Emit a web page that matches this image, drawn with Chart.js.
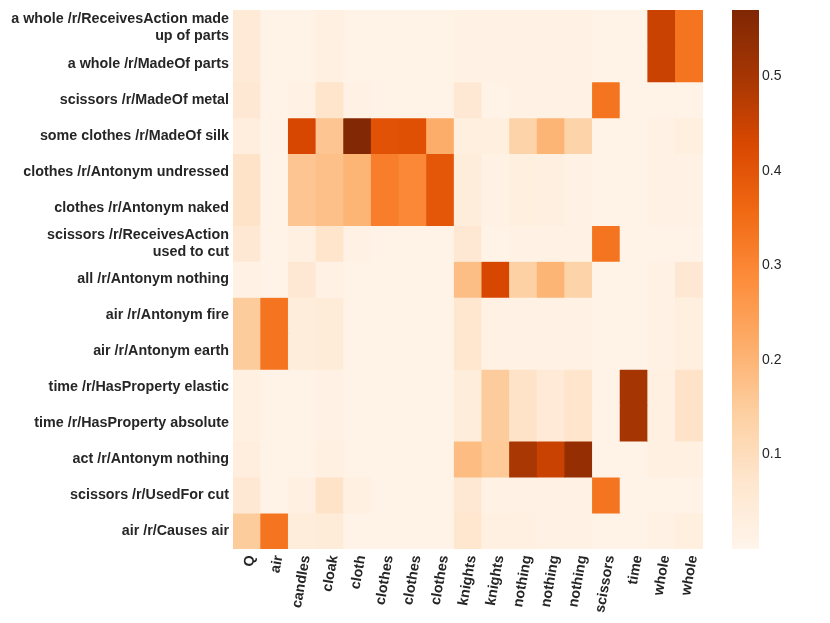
<!DOCTYPE html>
<html>
<head>
<meta charset="utf-8">
<script src="https://cdn.jsdelivr.net/npm/chart.js@4/dist/chart.umd.min.js"></script>
<style>
  html, body { margin: 0; padding: 0; background: #fff; }
  #wrap { width: 830px; height: 623px; position: relative; }
</style>
</head>
<body>
<div id="wrap"><canvas id="chart"></canvas></div>
<script>
const rowLabels = [
    ['a whole /r/ReceivesAction made', 'up of parts'],
    'a whole /r/MadeOf parts',
    'scissors /r/MadeOf metal',
    'some clothes /r/MadeOf silk',
    'clothes /r/Antonym undressed',
    'clothes /r/Antonym naked',
    ['scissors /r/ReceivesAction', 'used to cut'],
    'all /r/Antonym nothing',
    'air /r/Antonym fire',
    'air /r/Antonym earth',
    'time /r/HasProperty elastic',
    'time /r/HasProperty absolute',
    'act /r/Antonym nothing',
    'scissors /r/UsedFor cut',
    'air /r/Causes air',
];

const colLabels = ['Q', 'air', 'candles', 'cloak', 'cloth', 'clothes', 'clothes', 'clothes',
    'knights', 'knights', 'nothing', 'nothing', 'nothing', 'scissors', 'time', 'whole', 'whole'];

// one row per statement, one value per column
const cellValues = [
    [0.05, 0.01, 0.01, 0.025, 0.01, 0.01, 0.01, 0.01, 0.015, 0.015, 0.02, 0.02, 0.018, 0.008, 0.008, 0.45, 0.335],
    [0.05, 0.01, 0.01, 0.022, 0.01, 0.01, 0.01, 0.01, 0.014, 0.014, 0.02, 0.02, 0.017, 0.008, 0.008, 0.45, 0.335],
    [0.06, 0.008, 0.02, 0.075, 0.02, 0.01, 0.01, 0.01, 0.06, 0.012, 0.014, 0.014, 0.014, 0.335, 0.01, 0.012, 0.012],
    [0.035, 0.008, 0.43, 0.165, 0.565, 0.405, 0.41, 0.215, 0.03, 0.03, 0.13, 0.2, 0.13, 0.01, 0.01, 0.02, 0.03],
    [0.08, 0.01, 0.165, 0.175, 0.2, 0.315, 0.295, 0.395, 0.04, 0.015, 0.03, 0.028, 0.02, 0.012, 0.012, 0.02, 0.02],
    [0.08, 0.01, 0.165, 0.175, 0.2, 0.315, 0.295, 0.395, 0.04, 0.015, 0.03, 0.028, 0.02, 0.012, 0.012, 0.02, 0.02],
    [0.06, 0.008, 0.022, 0.075, 0.02, 0.01, 0.01, 0.01, 0.06, 0.01, 0.014, 0.014, 0.014, 0.335, 0.01, 0.012, 0.012],
    [0.02, 0.008, 0.06, 0.015, 0.01, 0.01, 0.01, 0.01, 0.18, 0.43, 0.14, 0.2, 0.13, 0.01, 0.01, 0.02, 0.06],
    [0.15, 0.335, 0.04, 0.045, 0.01, 0.01, 0.01, 0.01, 0.07, 0.018, 0.02, 0.018, 0.015, 0.012, 0.012, 0.015, 0.03],
    [0.15, 0.335, 0.04, 0.045, 0.01, 0.01, 0.01, 0.01, 0.07, 0.018, 0.02, 0.018, 0.015, 0.012, 0.012, 0.015, 0.03],
    [0.025, 0.01, 0.012, 0.018, 0.01, 0.01, 0.01, 0.01, 0.04, 0.15, 0.08, 0.05, 0.075, 0.01, 0.5, 0.025, 0.08],
    [0.025, 0.01, 0.012, 0.018, 0.01, 0.01, 0.01, 0.01, 0.04, 0.15, 0.08, 0.05, 0.075, 0.01, 0.5, 0.025, 0.08],
    [0.035, 0.01, 0.01, 0.025, 0.01, 0.01, 0.01, 0.01, 0.185, 0.155, 0.495, 0.45, 0.53, 0.01, 0.01, 0.025, 0.025],
    [0.06, 0.008, 0.022, 0.08, 0.022, 0.012, 0.01, 0.01, 0.06, 0.014, 0.018, 0.014, 0.014, 0.335, 0.01, 0.012, 0.012],
    [0.15, 0.335, 0.04, 0.045, 0.012, 0.01, 0.01, 0.01, 0.07, 0.025, 0.025, 0.02, 0.02, 0.012, 0.012, 0.015, 0.03],
];

const colorbarTicks = [0.1, 0.2, 0.3, 0.4, 0.5];
const V_MIN = 0;
const V_MAX = 0.57;

// matplotlib "Oranges"
const ORANGES = ['#fff5eb', '#fee6ce', '#fdd0a2', '#fdae6b', '#fd8d3c', '#f16913', '#d94801', '#a63603', '#7f2704'];

function hexToRgb(h) {
    return [parseInt(h.slice(1, 3), 16), parseInt(h.slice(3, 5), 16), parseInt(h.slice(5, 7), 16)];
}

function orangeFor(v) {
    let t = (v - V_MIN) / (V_MAX - V_MIN);
    t = Math.max(0, Math.min(1, t));
    const pos = t * (ORANGES.length - 1);
    const i = Math.min(Math.floor(pos), ORANGES.length - 2);
    const f = pos - i;
    const a = hexToRgb(ORANGES[i]);
    const b = hexToRgb(ORANGES[i + 1]);
    const c = a.map((x, k) => Math.round(x + (b[k] - x) * f));
    return `rgb(${c[0]},${c[1]},${c[2]})`;
}

// scales add their tick padding above/below the plot; we don't want that here
function noEdgePadding(s) {
    s.paddingTop = 0;
    s.paddingBottom = 0;
    s.paddingLeft = 0;
    s.paddingRight = 0;
}

const datasets = cellValues.map((row, r) => ({
    label: Array.isArray(rowLabels[r]) ? rowLabels[r].join(' ') : rowLabels[r],
    data: row.map(() => [r, r + 1]),
    backgroundColor: row.map(orangeFor),
    borderWidth: 0,
    barPercentage: 1,
    categoryPercentage: 1,
    grouped: false,
    yAxisID: 'y',
}));

const colorbarPlugin = {
    id: 'colorbar',
    afterDraw(chart) {
        const cb = chart.scales.cb;
        const ctx = chart.ctx;
        const x = chart.chartArea.right + 29;
        const w = 27;
        const top = cb.getPixelForValue(V_MAX);
        const bottom = cb.getPixelForValue(V_MIN);
        const grad = ctx.createLinearGradient(0, bottom, 0, top);
        ORANGES.forEach((c, i) => grad.addColorStop(i / (ORANGES.length - 1), c));
        ctx.save();
        ctx.fillStyle = grad;
        ctx.fillRect(x, top, w, bottom - top);
        ctx.restore();
    },
};

Chart.defaults.font.family = '"Liberation Sans", Arial, sans-serif';
Chart.defaults.color = '#262626';

new Chart(document.getElementById('chart'), {
    type: 'bar',
    data: { labels: colLabels, datasets },
    options: {
        responsive: true,
        maintainAspectRatio: false,
        animation: false,
        layout: { padding: { top: 10, left: 0, right: 0, bottom: 0 } },
        plugins: {
            legend: { display: false },
            tooltip: { enabled: false },
        },
        scales: {
            x: {
                type: 'category',
                grid: { display: false, drawTicks: false },
                border: { display: false },
                ticks: {
                    autoSkip: false,
                    minRotation: 80,
                    maxRotation: 80,
                    padding: 5,
                    labelOffset: 4,
                    font: { size: 14.3, weight: 'bold' },
                },
                afterFit(s) { s.height = 74; noEdgePadding(s); },
            },
            y: {
                type: 'linear',
                reverse: true,
                min: 0,
                max: rowLabels.length,
                grid: { display: false, drawTicks: false },
                border: { display: false },
                afterBuildTicks(s) {
                    s.ticks = rowLabels.map((_, i) => ({ value: i + 0.5 }));
                },
                ticks: {
                    padding: 4,
                    font: { size: 14.3, weight: 'bold' },
                    callback: (v) => rowLabels[Math.floor(v)],
                },
                afterFit(s) { s.width = 233; noEdgePadding(s); },
            },
            cb: {
                type: 'linear',
                position: 'right',
                min: V_MIN,
                max: V_MAX,
                grid: { display: false, drawTicks: false },
                border: { display: false },
                afterBuildTicks(s) {
                    s.ticks = colorbarTicks.map(v => ({ value: v }));
                },
                ticks: {
                    padding: 59,
                    font: { size: 14 },
                    callback: (v) => v.toFixed(1),
                },
                afterFit(s) { s.width = 127; noEdgePadding(s); },
            },
        },
    },
    plugins: [colorbarPlugin],
});
</script>
</body>
</html>
